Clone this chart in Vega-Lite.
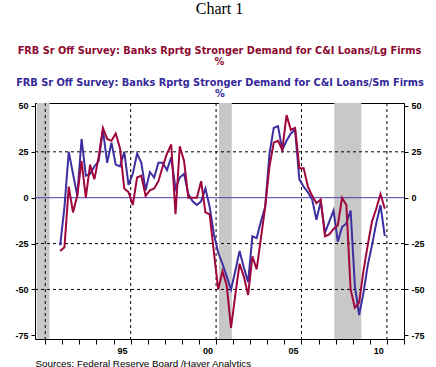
{
  "$schema": "https://vega.github.io/schema/vega-lite/v6.json",
  "width": 369,
  "height": 236,
  "autosize": {"type": "none"},
  "padding": {"left": 35, "top": 103, "right": 32, "bottom": 28},
  "background": "white",
  "title": {
    "text": "Chart 1",
    "subtitle": ["FRB Sr Off Survey: Banks Rprtg Stronger Demand for C&I Loans/Lg Firms", "%"],
    "font": "Liberation Serif",
    "fontSize": 16,
    "fontWeight": "normal",
    "color": "black",
    "subtitleFont": "DejaVu Sans",
    "subtitleFontSize": 9.8,
    "subtitleFontWeight": "bold",
    "subtitleColor": "#8c0b32",
    "subtitleLineHeight": 10.5,
    "subtitlePadding": 29,
    "anchor": "middle",
    "frame": "group",
    "offset": 11
  },
  "config": {"view": {"stroke": "black", "strokeWidth": 1}},
  "datasets": {
    "recessions": [
      {"start": 1990.5, "end": 1991.25},
      {"start": 2001.17, "end": 2001.92},
      {"start": 2007.92, "end": 2009.5}
    ],
    "vgrid": [{"year": 1991}, {"year": 1996}, {"year": 2001}, {"year": 2006}, {"year": 2011}],
    "hgrid": [{"level": 25}, {"level": -25}, {"level": -50}],
    "zero": [{"level": 0}],
    "survey": [
      {"t": 1991.875, "lg": -29, "sm": -26},
      {"t": 1992.125, "lg": -27, "sm": -5},
      {"t": 1992.375, "lg": 6, "sm": 25},
      {"t": 1992.625, "lg": -8, "sm": 13},
      {"t": 1992.875, "lg": 1, "sm": 1},
      {"t": 1993.125, "lg": 20, "sm": 32},
      {"t": 1993.375, "lg": 0, "sm": 12},
      {"t": 1993.625, "lg": 18, "sm": 13},
      {"t": 1993.875, "lg": 10, "sm": 17},
      {"t": 1994.125, "lg": 22, "sm": 20},
      {"t": 1994.375, "lg": 38, "sm": 37},
      {"t": 1994.625, "lg": 32, "sm": 19},
      {"t": 1994.875, "lg": 31, "sm": 30},
      {"t": 1995.125, "lg": 35, "sm": 18},
      {"t": 1995.375, "lg": 27, "sm": 17},
      {"t": 1995.625, "lg": 5, "sm": 25},
      {"t": 1995.875, "lg": 3, "sm": 7},
      {"t": 1996.125, "lg": -4, "sm": 13},
      {"t": 1996.375, "lg": 11, "sm": 24},
      {"t": 1996.625, "lg": 12, "sm": 19},
      {"t": 1996.875, "lg": 1, "sm": 4},
      {"t": 1997.125, "lg": 4, "sm": 14},
      {"t": 1997.375, "lg": 5, "sm": 11},
      {"t": 1997.625, "lg": 9, "sm": 19},
      {"t": 1997.875, "lg": 17, "sm": 19},
      {"t": 1998.125, "lg": 24, "sm": 15},
      {"t": 1998.375, "lg": 29, "sm": 22},
      {"t": 1998.625, "lg": -9, "sm": 5},
      {"t": 1998.875, "lg": 28, "sm": 11},
      {"t": 1999.125, "lg": 20, "sm": 13},
      {"t": 1999.375, "lg": 0, "sm": 2},
      {"t": 1999.625, "lg": 0, "sm": -2},
      {"t": 1999.875, "lg": 0, "sm": -4},
      {"t": 2000.125, "lg": 9, "sm": -2},
      {"t": 2000.375, "lg": -8, "sm": 5},
      {"t": 2000.625, "lg": -9, "sm": -5},
      {"t": 2000.875, "lg": -30, "sm": -20},
      {"t": 2001.125, "lg": -50, "sm": -30},
      {"t": 2001.375, "lg": -40, "sm": -36},
      {"t": 2001.625, "lg": -48, "sm": -43},
      {"t": 2001.875, "lg": -71, "sm": -50},
      {"t": 2002.125, "lg": -53, "sm": -40},
      {"t": 2002.375, "lg": -36, "sm": -29},
      {"t": 2002.625, "lg": -43, "sm": -38},
      {"t": 2002.875, "lg": -53, "sm": -46},
      {"t": 2003.125, "lg": -32, "sm": -21},
      {"t": 2003.375, "lg": -39, "sm": -22},
      {"t": 2003.625, "lg": -22, "sm": -13},
      {"t": 2003.875, "lg": -5, "sm": -5},
      {"t": 2004.125, "lg": 17, "sm": 24},
      {"t": 2004.375, "lg": 30, "sm": 38},
      {"t": 2004.625, "lg": 31, "sm": 39},
      {"t": 2004.875, "lg": 26, "sm": 26},
      {"t": 2005.125, "lg": 45, "sm": 31},
      {"t": 2005.375, "lg": 37, "sm": 35},
      {"t": 2005.625, "lg": 38, "sm": 37},
      {"t": 2005.875, "lg": 16, "sm": 10},
      {"t": 2006.125, "lg": 16, "sm": 6},
      {"t": 2006.375, "lg": 6, "sm": 3},
      {"t": 2006.625, "lg": 1, "sm": -1},
      {"t": 2006.875, "lg": -3, "sm": -12},
      {"t": 2007.125, "lg": -1, "sm": -2},
      {"t": 2007.375, "lg": -21, "sm": -19},
      {"t": 2007.625, "lg": -20, "sm": -13},
      {"t": 2007.875, "lg": -17, "sm": -7},
      {"t": 2008.125, "lg": -15, "sm": -24},
      {"t": 2008.375, "lg": 0, "sm": -16},
      {"t": 2008.625, "lg": -4, "sm": -14},
      {"t": 2008.875, "lg": -50, "sm": -7},
      {"t": 2009.125, "lg": -60, "sm": -48},
      {"t": 2009.375, "lg": -57, "sm": -64},
      {"t": 2009.625, "lg": -40, "sm": -52},
      {"t": 2009.875, "lg": -26, "sm": -37},
      {"t": 2010.125, "lg": -13, "sm": -26},
      {"t": 2010.375, "lg": -6, "sm": -14},
      {"t": 2010.625, "lg": 2, "sm": -4},
      {"t": 2010.875, "lg": -6, "sm": -21}
    ]
  },
  "layer": [
    {
      "data": {"name": "recessions"},
      "mark": {"type": "rect", "color": "#c8c8c8"},
      "encoding": {
        "x": {"field": "start", "type": "quantitative", "scale": {"domain": [1990.4, 2012], "nice": false, "zero": false}, "axis": null},
        "x2": {"field": "end"}
      }
    },
    {
      "data": {"name": "vgrid"},
      "mark": {"type": "rule", "color": "black", "strokeWidth": 1, "strokeDash": [3, 3]},
      "encoding": {
        "x": {"field": "year", "type": "quantitative", "scale": {"domain": [1990.4, 2012], "nice": false, "zero": false}, "axis": null}
      }
    },
    {
      "data": {"name": "hgrid"},
      "mark": {"type": "rule", "color": "black", "strokeWidth": 1, "strokeDash": [3, 3]},
      "encoding": {
        "y": {"field": "level", "type": "quantitative", "scale": {"domain": [-77, 51.6], "nice": false, "zero": false}, "axis": null}
      }
    },
    {
      "data": {"name": "zero"},
      "mark": {"type": "rule", "color": "#4a3aa8", "strokeWidth": 1},
      "encoding": {
        "y": {"field": "level", "type": "quantitative", "scale": {"domain": [-77, 51.6], "nice": false, "zero": false}, "axis": null}
      }
    },
    {
      "data": {"name": "survey"},
      "mark": {"type": "line", "color": "#3c2fa0", "strokeWidth": 2},
      "encoding": {
        "x": {
          "field": "t", "type": "quantitative",
          "scale": {"domain": [1990.4, 2012], "nice": false, "zero": false},
          "axis": {
            "orient": "bottom",
            "values": [1991, 1992, 1993, 1994, 1995, 1996, 1997, 1998, 1999, 2000, 2001, 2002, 2003, 2004, 2005, 2006, 2007, 2008, 2009, 2010, 2011, 2012],
            "labelExpr": "datum.value % 5 == 0 ? substring(toString(datum.value), 2, 4) : ''",
            "labelOffset": 8.5,
            "labelOverlap": false,
            "labelFont": "Liberation Sans",
            "labelFontWeight": "bold",
            "labelFontSize": 9,
            "labelColor": "black",
            "labelPadding": 2,
            "tickSize": 5,
            "tickColor": "black",
            "domainColor": "black",
            "grid": false,
            "title": "Sources:  Federal Reserve Board /Haver Analytics",
            "titleAnchor": "start",
            "titleAlign": "left",
            "titleFont": "Liberation Sans",
            "titleFontWeight": "normal",
            "titleFontSize": 9.8,
            "titleColor": "black",
            "titlePadding": 3
          }
        },
        "y": {
          "field": "sm", "type": "quantitative",
          "scale": {"domain": [-77, 51.6], "nice": false, "zero": false},
          "axis": {
            "orient": "left",
            "values": [50, 25, 0, -25, -50, -75],
            "labelExpr": "'' + datum.value",
            "grid": false,
            "tickSize": 4,
            "tickColor": "black",
            "domainColor": "black",
            "labelFont": "Liberation Sans",
            "labelFontWeight": "bold",
            "labelFontSize": 9,
            "labelColor": "black",
            "labelPadding": 3,
            "title": null
          }
        }
      }
    },
    {
      "data": {"name": "survey"},
      "mark": {"type": "line", "color": "#a0063e", "strokeWidth": 2},
      "encoding": {
        "x": {
          "field": "t", "type": "quantitative",
          "scale": {"domain": [1990.4, 2012], "nice": false, "zero": false},
          "axis": {
            "orient": "top",
            "domain": false,
            "ticks": false,
            "labels": false,
            "grid": false,
            "title": ["FRB Sr Off Survey: Banks Rprtg Stronger Demand for C&I Loans/Sm Firms", "%"],
            "titleColor": "#35299a",
            "titleFont": "DejaVu Sans",
            "titleFontWeight": "bold",
            "titleFontSize": 9.8,
            "titleLineHeight": 10.5,
            "titlePadding": 5
          }
        },
        "y": {
          "field": "lg", "type": "quantitative",
          "scale": {"domain": [-77, 51.6], "nice": false, "zero": false},
          "axis": {
            "orient": "right",
            "values": [50, 25, 0, -25, -50, -75],
            "labelExpr": "'' + datum.value",
            "grid": false,
            "tickSize": 4,
            "tickColor": "black",
            "domainColor": "black",
            "labelFont": "Liberation Sans",
            "labelFontWeight": "bold",
            "labelFontSize": 9,
            "labelColor": "black",
            "labelPadding": 3,
            "title": null
          }
        }
      }
    }
  ],
  "resolve": {"axis": {"x": "independent", "y": "independent"}}
}
